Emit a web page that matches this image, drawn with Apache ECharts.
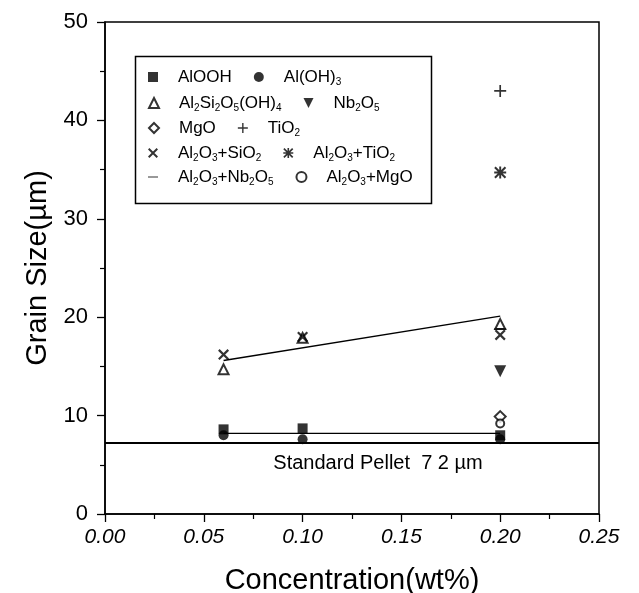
<!DOCTYPE html>
<html>
<head>
<meta charset="utf-8">
<script src="https://cdn.jsdelivr.net/npm/echarts@6/dist/echarts.min.js"></script>
<style>html,body{margin:0;padding:0;background:#fff}#c{width:639px;height:593px}</style>
</head>
<body>
<div id="c"></div>
<script>
// ---- data ----
const conc = [0.06, 0.10, 0.20];
const seriesNames = ['AlOOH','Al(OH)3','Al2Si2O5(OH)4','Nb2O5','MgO','TiO2','Al2O3+SiO2','Al2O3+TiO2','Al2O3+Nb2O5','Al2O3+MgO'];
const alooh      = [8.6, 8.7, 8.0];
const aloh3      = [8.0, 7.6, 7.6];
const kaolinite  = [14.7, 17.9, 19.3];
const nb2o5      = [null, null, 14.5];
const mgo        = [null, null, 9.9];
const tio2       = [null, null, 43.0];
const al2o3SiO2  = [16.2, 18.0, 18.2];
const al2o3TiO2  = [null, null, 34.7];
const al2o3Nb2O5 = [null, null, 18.8];
const al2o3MgO   = [null, null, 9.2];
const fitX = [0.06, 0.20];
const upperFitY = [15.6, 20.1];
const lowerFitY = [8.2, 8.2];
const standardPellet = 7.2;
const standardLabel = 'Standard Pellet  7 2 µm';
const xTicks = [0, 0.05, 0.10, 0.15, 0.20, 0.25];
const yTicks = [0, 10, 20, 30, 40, 50];

// ---- helpers ----
const FONT = '"Liberation Sans", Arial, sans-serif';
function pts(vals){ return conc.map((x,i)=> vals[i]==null?null:[x, vals[i]]).filter(p=>p); }
const PLUS = 'path://M4.3,0H5.7V10H4.3Z M0,4.3H10V5.7H0Z';
const CROSS = 'path://M0,1.4L1.4,0L10,8.6L8.6,10Z M8.6,0L10,1.4L1.4,10L0,8.6Z';
const STAR = 'path://M4.2,0H5.8V10H4.2Z M0,4.2H10V5.8H0Z M0,1.2L1.2,0L10,8.8L8.8,10Z M8.8,0L10,1.2L1.2,10L0,8.8Z';
const DASH = 'path://M0,4.4H10V5.6H0Z M0,0H0.01V0.01H0Z M9.99,9.99H10V10H9.99Z';
const DOWNTRI = 'path://M0,0H10L5,10Z';
const solid = {color:'#000'};
const open = {color:'#fff', borderColor:'#000', borderWidth:2};

const defs = [
  {name:seriesNames[0], vals:alooh, symbol:'rect', size:10, style:solid},
  {name:seriesNames[1], vals:aloh3, symbol:'circle', size:10, style:solid},
  {name:seriesNames[2], vals:kaolinite, symbol:'triangle', size:10, style:open},
  {name:seriesNames[3], vals:nb2o5, symbol:DOWNTRI, size:12, style:solid},
  {name:seriesNames[4], vals:mgo, symbol:'diamond', size:11, style:open},
  {name:seriesNames[5], vals:tio2, symbol:PLUS, size:12, style:solid},
  {name:seriesNames[6], vals:al2o3SiO2, symbol:CROSS, size:11, style:solid},
  {name:seriesNames[7], vals:al2o3TiO2, symbol:STAR, size:12, style:solid},
  {name:seriesNames[8], vals:al2o3Nb2O5, symbol:DASH, size:12, style:solid},
  {name:seriesNames[9], vals:al2o3MgO, symbol:'circle', size:8, style:open}
];

const series = defs.map(d => ({
  name:d.name, type:'scatter', data:pts(d.vals), symbol:d.symbol, symbolSize:d.size,
  itemStyle:d.style, z:5
}));
series.push({type:'line', data:fitX.map((x,i)=>[x, upperFitY[i]]), symbol:'none', lineStyle:{color:'#000', width:1.3}, z:3, silent:true});
series.push({type:'line', data:fitX.map((x,i)=>[x, lowerFitY[i]]), symbol:'none', lineStyle:{color:'#000', width:1.3}, z:3, silent:true});
series.push({type:'line', data:[], z:3, markLine:{
  silent:true, symbol:['none','none'],
  lineStyle:{color:'#000', width:2, type:'solid'},
  label:{show:true, position:'insideMiddleBottom', formatter:standardLabel, color:'#000', fontSize:20, fontFamily:FONT, padding:[0,0,0,52], distance:10},
  data:[{yAxis:standardPellet}]
}});

function fmt(name){ return '{p| }' + name.replace(/(\d)/g, '{s|$1}'); }
const rows = [[0,1],[2,3],[4,5],[6,7],[8,9]];
const rowCenters = [77, 103, 128, 153, 177];
const legends = rows.map((r,i)=>({
  data:r.map(k=>seriesNames[k]), left:148, top:rowCenters[i]-10, orient:'horizontal',
  itemWidth:10, itemHeight:10, itemGap:22, padding:0, selectedMode:false,
  formatter:fmt,
  textStyle:{fontSize:17, fontFamily:FONT, color:'#000', lineHeight:20,
    rich:{p:{width:15, fontSize:10}, s:{fontSize:10, fontFamily:FONT, color:'#000', lineHeight:12, verticalAlign:'bottom'}}}
}));

const chart = echarts.init(document.getElementById('c'), null, {renderer:'canvas'});
chart.setOption({
  animation:false,
  backgroundColor:'#fff',
  grid:{left:105, right:40, top:22, bottom:79, outerBoundsMode:'none', containLabel:false, show:true, borderColor:'#000', borderWidth:1.5, backgroundColor:'transparent'},
  legend:legends,
  graphic:[{type:'rect', left:133, top:54, shape:{width:296, height:147}, style:{fill:'none', stroke:'#000', lineWidth:1.5}, z:10}],
  xAxis:{type:'value', min:xTicks[0], max:xTicks[xTicks.length-1], interval:0.05,
    name:'Concentration(wt%)', nameLocation:'middle', nameGap:52,
    nameTextStyle:{fontSize:29, fontFamily:FONT, color:'#000'},
    axisLine:{show:true, onZero:false, lineStyle:{color:'#000', width:1.5}},
    axisTick:{show:true, inside:false, length:8, lineStyle:{color:'#000', width:1.3}},
    minorTick:{show:true, splitNumber:2, length:5, lineStyle:{color:'#000', width:1.2}},
    splitLine:{show:false},
    axisLabel:{fontSize:21, fontStyle:'italic', fontFamily:FONT, color:'#000', margin:13, formatter:v=>v.toFixed(2)}
  },
  yAxis:{type:'value', min:yTicks[0], max:yTicks[yTicks.length-1], interval:10,
    name:'Grain Size(µm)', nameLocation:'middle', nameGap:52, nameRotate:90,
    nameTextStyle:{fontSize:29, fontFamily:FONT, color:'#000'},
    axisLine:{show:true, onZero:false, lineStyle:{color:'#000', width:1.5}},
    axisTick:{show:true, inside:false, length:8, lineStyle:{color:'#000', width:1.3}},
    minorTick:{show:true, splitNumber:2, length:5, lineStyle:{color:'#000', width:1.2}},
    splitLine:{show:false},
    axisLabel:{fontSize:22, fontFamily:FONT, color:'#000', margin:17}
  },
  series:series
});
</script>
</body>
</html>
